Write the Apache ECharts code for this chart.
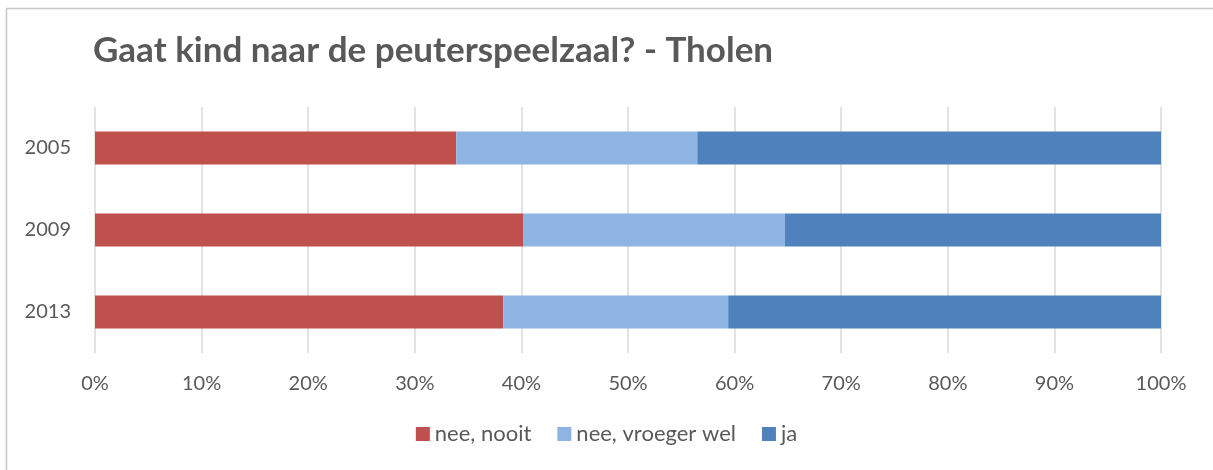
<!DOCTYPE html>
<html>
<head>
<meta charset="utf-8">
<script src="https://cdn.jsdelivr.net/npm/echarts@6/dist/echarts.min.js"></script>
<style>
  html, body { margin: 0; padding: 0; background: #fff; }
  #chart { width: 1213px; height: 470px; }
</style>
</head>
<body>
<div id="chart"></div>
<script>
const years = ['2005', '2009', '2013'];
const neeNooit = [33.9, 40.2, 38.3];
const neeVroegerWel = [22.6, 24.5, 21.1];
const ja = [43.5, 35.3, 40.6];
const seriesNames = ['nee, nooit', 'nee, vroeger wel', 'ja'];
const seriesColors = ['#c0504d', '#8eb4e3', '#4f81bd'];

const TEXT_COLOR = '#595959';
const FONT = 'Lato, "Open Sans", sans-serif';

const chart = echarts.init(document.getElementById('chart'), null, { renderer: 'canvas' });

function barSeries(name, data, color) {
  return {
    name,
    type: 'bar',
    stack: 'total',
    data,
    barWidth: '40%',
    itemStyle: { color },
    emphasis: { disabled: true },
  };
}

chart.setOption({
  animation: false,
  backgroundColor: '#fff',
  textStyle: { fontFamily: FONT },
  title: {
    text: 'Gaat kind naar de peuterspeelzaal? - Tholen',
    left: 88,
    top: 28,
    textStyle: {
      color: TEXT_COLOR,
      fontFamily: FONT,
      fontWeight: 'bold',
      fontSize: 35,
    },
  },
  graphic: [
    {
      type: 'rect',
      shape: { x: 6.5, y: 8.5, width: 1400, height: 800 },
      style: { fill: 'none', stroke: '#c8c8c8', lineWidth: 1.5 },
      silent: true,
    },
  ],
  legend: {
    bottom: 20,
    left: 'center',
    itemWidth: 14,
    itemHeight: 14,
    itemGap: 26,
    icon: 'rect',
    textStyle: { color: TEXT_COLOR, fontSize: 22, fontFamily: FONT },
    data: seriesNames,
  },
  grid: {
    top: 107,
    bottom: 117,
    left: 95,
    right: 52,
    containLabel: false,
  },
  xAxis: {
    type: 'value',
    min: 0,
    max: 100,
    interval: 10,
    axisLine: { show: false },
    axisTick: { show: false },
    axisLabel: {
      color: TEXT_COLOR,
      fontSize: 20,
      margin: 21,
      fontFamily: FONT,
      formatter: (v) => `${v}%`,
    },
    splitLine: { show: true, lineStyle: { color: '#d9d9d9', width: 1.5 } },
  },
  yAxis: {
    type: 'category',
    data: years,
    inverse: true,
    axisLine: { show: false },
    axisTick: { show: false },
    axisLabel: { color: TEXT_COLOR, fontSize: 20, margin: 24, fontFamily: FONT },
    splitLine: { show: false },
  },
  series: [
    barSeries(seriesNames[0], neeNooit, seriesColors[0]),
    barSeries(seriesNames[1], neeVroegerWel, seriesColors[1]),
    barSeries(seriesNames[2], ja, seriesColors[2]),
  ],
});
</script>
</body>
</html>
